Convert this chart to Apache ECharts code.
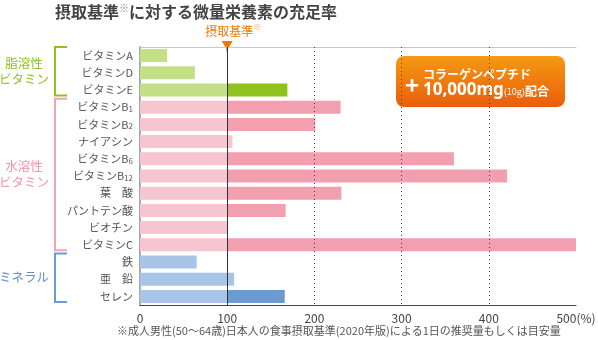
<!DOCTYPE html>
<html><head><meta charset="utf-8">
<script src="https://cdn.jsdelivr.net/npm/echarts@6/dist/echarts.min.js"></script>
<style>html,body{margin:0;padding:0;background:#fff}#main{width:598px;height:340px}</style>
</head><body><div id="main"></div>
<script>
const categories = ['ビタミンA','ビタミンD','ビタミンE','ビタミンB1','ビタミンB2','ナイアシン','ビタミンB6','ビタミンB12','葉　酸','パントテン酸','ビオチン','ビタミンC','鉄','亜　鉛','セレン'];
const values = [31, 63, 169, 230, 201, 106, 360, 421, 231, 167, 100, 500, 65, 108, 166];
const groupOf = [0,0,0, 1,1,1,1,1,1,1,1,1, 2,2,2];
const darkAbove = [0,0,1, 1,1,0,1,1,1,1,0,1, 0,0,1];
const xTicks = [0, 100, 200, 300, 400, 500];
const groupNames = ['脂溶性\nビタミン', '水溶性\nビタミン', 'ミネラル'];
const groupRanges = [[0,2],[3,11],[12,14]];
const lightColors = ['#c5df88', '#f6c5d0', '#a8c4e6'];
const darkColors = ['#8fc21f', '#f29fb0', '#6a9bd3'];
const bracketColors = ['#8fc21f', '#f3a3b5', '#6a9bd3'];
const groupTextColors = ['#8fc31f', '#f195ab', '#5b90d2'];
const refValue = 100;
const dottedValues = [200, 300, 400];

const FONT = "'Noto Sans CJK JP', 'Noto Sans', sans-serif";
const chart = echarts.init(document.getElementById('main'), null, {renderer: 'canvas'});

const option = {
  animation: false,
  backgroundColor: '#fff',
  textStyle: {fontFamily: FONT},
  grid: {left: 140, right: 22, top: 47, bottom: 35, outerBoundsMode: 'none', containLabel: false},
  xAxis: [{
    type: 'value', min: xTicks[0], max: xTicks[xTicks.length - 1], interval: xTicks[1] - xTicks[0],
    axisLine: {show: true, lineStyle: {color: '#444', width: 1}},
    axisTick: {show: false},
    splitLine: {show: false},
    axisLabel: {
      color: '#444', fontSize: 12, margin: 7, fontFamily: FONT,
      formatter: v => v === xTicks[xTicks.length - 1] ? v + '(%)' : String(v)
    }
  }, {
    type: 'value', position: 'top', min: xTicks[0], max: xTicks[xTicks.length - 1],
    axisLine: {show: true, lineStyle: {color: '#c8c8c8', width: 1}},
    axisTick: {show: false}, axisLabel: {show: false}, splitLine: {show: false}
  }],
  yAxis: [{
    type: 'category', data: categories, inverse: true,
    axisLine: {show: true, lineStyle: {color: '#444', width: 1}},
    axisTick: {show: false},
    splitLine: {show: false},
    axisLabel: {
      color: '#555', fontSize: 11, margin: 7, fontFamily: FONT,
      formatter: v => { const m = v.match(/^(.*B)(\d+)$/); return m ? m[1] + '{sub|' + m[2] + '}' : v; },
      rich: {sub: {fontSize: 8, color: '#555', fontFamily: FONT, verticalAlign: 'bottom', padding: [4, 0, 0, 0]}}
    }
  }, {
    type: 'category', data: categories, inverse: true, position: 'right',
    axisLine: {show: true, lineStyle: {color: '#a8a8a8', width: 2}},
    axisTick: {show: false}, axisLabel: {show: false}, splitLine: {show: false}
  }],
  series: [{
    type: 'bar', stack: 'total', barWidth: 13, silent: true,
    data: values.map((v, i) => ({value: Math.min(v, refValue), itemStyle: {color: lightColors[groupOf[i]]}}))
  }, {
    type: 'bar', stack: 'total', barWidth: 13, silent: true,
    data: values.map((v, i) => ({value: Math.max(v - refValue, 0), itemStyle: {color: darkAbove[i] ? darkColors[groupOf[i]] : lightColors[groupOf[i]]}})),
    markLine: {
      silent: true, symbol: ['none', 'none'], label: {show: false}, z: 5,
      data: [{xAxis: refValue, lineStyle: {color: '#333', width: 1, type: 'solid'}}]
        .concat(dottedValues.map(d => ({xAxis: d, lineStyle: {color: '#444', width: 1, type: [1, 3]}})))
    }
  }]
};
chart.setOption(option);

const x100 = chart.convertToPixel({xAxisIndex: 0}, refValue);
const yc = i => chart.convertToPixel({yAxisIndex: 0}, categories[i]);
const graphics = [];

// title
graphics.push({type: 'text', left: 55, top: 3, style: {
  text: '摂取基準{s|※}に対する微量栄養素の充足率', fill: '#444', font: 'bold 16px ' + FONT,
  rich: {s: {fontSize: 10, fill: '#888', verticalAlign: 'top', padding: [0, 0, 8, 0], fontFamily: FONT}}
}});
// reference label and triangle
graphics.push({type: 'text', x: x100 + 2, y: 31, style: {text: '摂取基準', fill: '#ee7800', font: '12px ' + FONT, align: 'center', verticalAlign: 'middle'}});
graphics.push({type: 'text', x: x100 + 26, y: 27, style: {text: '※', fill: '#f5a050', font: '8px ' + FONT, align: 'left', verticalAlign: 'middle'}});
graphics.push({type: 'polygon', shape: {points: [[x100 - 5.5, 41], [x100 + 5.5, 41], [x100, 50]]}, style: {fill: '#ee7800'}});
graphics.push({type: 'line', shape: {x1: x100, y1: 49, x2: x100, y2: 52}, style: {stroke: '#333', lineWidth: 1}});

// group brackets and labels
groupRanges.forEach((r, g) => {
  const top = yc(r[0]) - 8.5, bot = yc(r[1]) + 5.5;
  graphics.push({type: 'polyline', shape: {points: [[67, top], [55, top], [55, bot], [67, bot]]},
    style: {stroke: bracketColors[g], lineWidth: 2, fill: null}});
  graphics.push({type: 'text', x: 24, y: (top + bot) / 2, style: {
    text: groupNames[g], fill: groupTextColors[g], font: '12.5px ' + FONT, align: 'center', verticalAlign: 'middle', lineHeight: 16
  }});
});

// badge
graphics.push({type: 'group', x: 396, y: 56, children: [
  {type: 'rect', shape: {x: 0, y: 0, width: 169, height: 51, r: 8}, style: {
    fill: new echarts.graphic.LinearGradient(0, 0, 0, 1, [{offset: 0, color: '#f59a12'}, {offset: 1, color: '#e95d0b'}])
  }},
  {type: 'text', x: 16, y: 29, style: {text: '+', fill: '#fff', font: 'bold 24px ' + FONT, align: 'center', verticalAlign: 'middle'}},
  {type: 'text', x: 27, y: 18, style: {text: 'コラーゲンペプチド', fill: '#fff', font: 'bold 12px ' + FONT, align: 'left', verticalAlign: 'middle'}},
  {type: 'text', x: 27, y: 34, style: {
    text: '{b|10,000mg}{s|(10g)}{m|配合}', fill: '#fff', align: 'left', verticalAlign: 'middle',
    rich: {
      b: {fontSize: 17, fontWeight: 'bold', fill: '#fff', fontFamily: "'Noto Sans', sans-serif"},
      s: {fontSize: 9, fill: '#fff', fontFamily: FONT, padding: [4, 0, 0, 0]},
      m: {fontSize: 12, fontWeight: 'bold', fill: '#fff', fontFamily: FONT, padding: [2, 0, 0, 0]}
    }
  }}
]});

// footnote
graphics.push({type: 'text', x: 117, y: 331, style: {
  text: '※成人男性(50〜64歳)日本人の食事摂取基準(2020年版)による1日の推奨量もしくは目安量',
  fill: '#555', font: '11px ' + FONT, align: 'left', verticalAlign: 'middle'
}});

chart.setOption({graphic: graphics});
</script>
</body></html>
